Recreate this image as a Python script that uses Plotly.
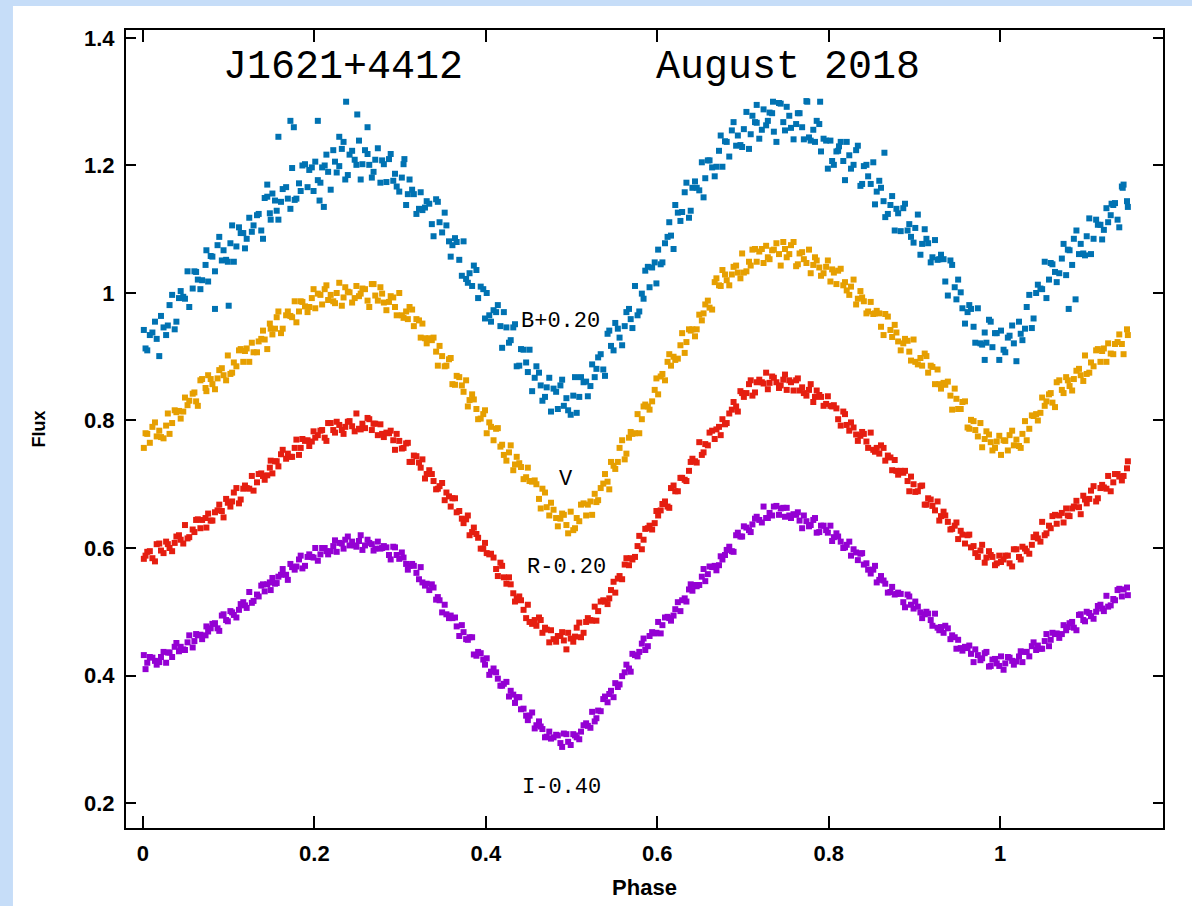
import plotly.graph_objects as go

# Orbital phase of each observation, first night (shared by all four bands)
phase_1 = [
    0.001, 0.005, 0.011, 0.016, 0.021, 0.027, 0.031, 0.037, 0.042, 0.047,
    0.052, 0.058, 0.062, 0.067, 0.073, 0.076, 0.081, 0.087, 0.092, 0.097,
    0.102, 0.106, 0.112, 0.117, 0.121, 0.127, 0.133, 0.138, 0.142, 0.148,
    0.151, 0.156, 0.161, 0.167, 0.172, 0.177, 0.182, 0.186, 0.192, 0.197,
    0.201, 0.207, 0.212, 0.216, 0.222, 0.226, 0.232, 0.236, 0.241, 0.247,
    0.252, 0.256, 0.262, 0.267, 0.271, 0.277, 0.281, 0.287, 0.292, 0.296,
    0.302, 0.307, 0.311, 0.316, 0.322, 0.326, 0.331, 0.337, 0.342, 0.346,
    0.352, 0.357, 0.361, 0.366, 0.372, 0.377, 0.381, 0.386, 0.391, 0.397,
    0.401, 0.406, 0.412, 0.417, 0.421, 0.427, 0.432, 0.436, 0.441, 0.447,
    0.451, 0.457, 0.462, 0.466, 0.471, 0.476, 0.482, 0.487, 0.491, 0.496,
    0.502, 0.506, 0.511, 0.517, 0.522, 0.527, 0.531, 0.537, 0.542, 0.546,
    0.551, 0.556, 0.562, 0.567, 0.571, 0.577, 0.582, 0.586, 0.591, 0.597,
    0.601, 0.606, 0.612, 0.616, 0.621, 0.627, 0.632, 0.637, 0.641, 0.646,
    0.652, 0.656, 0.661, 0.667, 0.672, 0.676, 0.681, 0.687, 0.692, 0.697,
    0.701, 0.707, 0.711, 0.716, 0.722, 0.727, 0.731, 0.736, 0.742, 0.747,
    0.751, 0.756, 0.762, 0.766, 0.771, 0.777, 0.782, 0.786, 0.791, 0.797,
    0.802, 0.806, 0.811, 0.817, 0.821, 0.826, 0.832, 0.837, 0.841, 0.846,
    0.852, 0.856, 0.861, 0.866, 0.872, 0.877, 0.881, 0.887, 0.892, 0.896,
    0.901, 0.907, 0.912, 0.916, 0.921, 0.927, 0.931, 0.936, 0.942, 0.947,
    0.951, 0.956, 0.962, 0.966, 0.971, 0.977, 0.982, 0.987, 0.991, 0.996,
    1.001, 1.006, 1.011, 1.016, 1.022, 1.026, 1.031, 1.037, 1.042, 1.047,
    1.052, 1.057, 1.061, 1.066, 1.072, 1.077, 1.081, 1.086, 1.092, 1.097,
    1.101, 1.106, 1.112, 1.117, 1.121, 1.126, 1.132, 1.137, 1.142, 1.148,
]

# Orbital phase of each observation, second night
phase_2 = [
    0.003, 0.008, 0.014, 0.019, 0.024, 0.029, 0.034, 0.039, 0.044, 0.049,
    0.054, 0.060, 0.064, 0.069, 0.074, 0.079, 0.084, 0.089, 0.094, 0.099,
    0.104, 0.109, 0.114, 0.119, 0.124, 0.129, 0.135, 0.140, 0.145, 0.149,
    0.154, 0.158, 0.163, 0.169, 0.174, 0.179, 0.184, 0.189, 0.194, 0.199,
    0.204, 0.209, 0.214, 0.219, 0.224, 0.229, 0.234, 0.239, 0.244, 0.249,
    0.254, 0.259, 0.264, 0.269, 0.274, 0.279, 0.284, 0.289, 0.294, 0.299,
    0.304, 0.309, 0.314, 0.319, 0.324, 0.329, 0.334, 0.339, 0.344, 0.349,
    0.354, 0.359, 0.364, 0.369, 0.374, 0.379, 0.384, 0.389, 0.394, 0.399,
    0.404, 0.409, 0.414, 0.419, 0.424, 0.429, 0.434, 0.439, 0.444, 0.449,
    0.454, 0.459, 0.464, 0.469, 0.474, 0.479, 0.484, 0.489, 0.494, 0.499,
    0.504, 0.509, 0.514, 0.519, 0.524, 0.529, 0.534, 0.539, 0.544, 0.549,
    0.554, 0.559, 0.564, 0.569, 0.574, 0.579, 0.584, 0.589, 0.594, 0.599,
    0.604, 0.609, 0.614, 0.619, 0.624, 0.629, 0.634, 0.639, 0.644, 0.649,
    0.654, 0.659, 0.664, 0.669, 0.674, 0.679, 0.684, 0.689, 0.694, 0.699,
    0.704, 0.709, 0.714, 0.719, 0.724, 0.729, 0.734, 0.739, 0.744, 0.749,
    0.754, 0.759, 0.764, 0.769, 0.774, 0.779, 0.784, 0.789, 0.794, 0.799,
    0.804, 0.809, 0.814, 0.819, 0.824, 0.829, 0.834, 0.839, 0.844, 0.849,
    0.854, 0.859, 0.864, 0.869, 0.874, 0.879, 0.884, 0.889, 0.894, 0.899,
    0.904, 0.909, 0.914, 0.919, 0.924, 0.929, 0.934, 0.939, 0.944, 0.949,
    0.954, 0.959, 0.964, 0.969, 0.974, 0.979, 0.984, 0.989, 0.994, 0.999,
    1.004, 1.009, 1.014, 1.019, 1.024, 1.029, 1.034, 1.039, 1.044, 1.049,
    1.054, 1.059, 1.064, 1.069, 1.074, 1.079, 1.084, 1.089, 1.094, 1.099,
    1.104, 1.109, 1.114, 1.119, 1.124, 1.129, 1.134, 1.139, 1.144, 1.149,
]

# B band flux (offset +0.20), night 1 and night 2
flux_b_1 = [
    0.942, 0.910, 0.938, 0.928, 0.964, 0.934, 0.981, 0.943, 0.992, 0.994,
    1.034, 1.007, 1.033, 1.006, 1.044, 1.018, 1.057, 1.075, 1.051, 1.052,
    1.078, 1.049, 1.103, 1.094, 1.085, 1.096, 1.122, 1.098, 1.149, 1.125,
    1.156, 1.129, 1.143, 1.166, 1.132, 1.146, 1.172, 1.200, 1.166, 1.197,
    1.206, 1.173, 1.200, 1.190, 1.224, 1.189, 1.226, 1.178, 1.217, 1.209,
    1.239, 1.202, 1.218, 1.181, 1.209, 1.173, 1.202, 1.210, 1.176, 1.167,
    1.181, 1.138, 1.178, 1.155, 1.132, 1.130, 1.144, 1.108, 1.147, 1.111,
    1.126, 1.081, 1.075, 1.080, 1.027, 1.022, 1.031, 1.043, 0.992, 1.006,
    1.000, 0.955, 0.970, 0.948, 0.970, 0.922, 0.946, 0.885, 0.912, 0.891,
    0.911, 0.867, 0.875, 0.831, 0.852, 0.814, 0.845, 0.855, 0.823, 0.816,
    0.839, 0.812, 0.868, 0.861, 0.854, 0.868, 0.899, 0.880, 0.936, 0.917,
    0.953, 0.930, 0.948, 0.975, 0.945, 0.965, 0.999, 1.035, 1.009, 1.048,
    1.068, 1.048, 1.088, 1.090, 1.138, 1.113, 1.158, 1.118, 1.165, 1.165,
    1.205, 1.180, 1.208, 1.183, 1.223, 1.198, 1.237, 1.255, 1.231, 1.232,
    1.257, 1.226, 1.278, 1.267, 1.256, 1.263, 1.283, 1.253, 1.298, 1.268,
    1.292, 1.259, 1.265, 1.282, 1.241, 1.244, 1.256, 1.270, 1.222, 1.239,
    1.239, 1.201, 1.223, 1.207, 1.237, 1.195, 1.224, 1.168, 1.199, 1.183,
    1.205, 1.159, 1.165, 1.119, 1.138, 1.098, 1.125, 1.133, 1.098, 1.088,
    1.102, 1.060, 1.100, 1.078, 1.056, 1.052, 1.060, 1.018, 1.051, 1.009,
    1.021, 0.976, 0.970, 0.975, 0.922, 0.921, 0.938, 0.958, 0.915, 0.937,
    0.941, 0.907, 0.933, 0.921, 0.955, 0.926, 0.978, 0.945, 1.000, 1.007,
    1.049, 1.021, 1.045, 1.017, 1.054, 1.028, 1.067, 1.085, 1.061, 1.062,
    1.089, 1.061, 1.115, 1.107, 1.099, 1.111, 1.138, 1.115, 1.167, 1.144,
]
flux_b_2 = [
    0.913, 0.934, 0.955, 0.901, 0.946, 0.949, 0.997, 0.955, 1.003, 0.991,
    0.978, 1.034, 1.021, 1.020, 1.067, 1.058, 1.034, 1.088, 1.067, 1.049,
    1.106, 1.073, 1.094, 1.070, 1.118, 1.106, 1.124, 1.085, 1.151, 1.115,
    1.145, 1.115, 1.163, 1.148, 1.196, 1.148, 1.160, 1.202, 1.193, 1.160,
    1.177, 1.197, 1.217, 1.162, 1.206, 1.199, 1.237, 1.185, 1.223, 1.201,
    1.178, 1.224, 1.201, 1.190, 1.227, 1.208, 1.174, 1.218, 1.187, 1.159,
    1.202, 1.155, 1.162, 1.124, 1.158, 1.134, 1.140, 1.089, 1.143, 1.095,
    1.106, 1.057, 1.086, 1.052, 1.081, 1.016, 1.011, 1.036, 1.010, 0.960,
    0.965, 0.973, 0.981, 0.914, 0.946, 0.926, 0.951, 0.886, 0.911, 0.876,
    0.846, 0.885, 0.855, 0.837, 0.867, 0.850, 0.818, 0.864, 0.835, 0.809,
    0.868, 0.837, 0.860, 0.838, 0.888, 0.881, 0.904, 0.870, 0.941, 0.910,
    0.944, 0.918, 0.970, 0.959, 1.011, 0.971, 0.991, 1.041, 1.040, 1.015,
    1.045, 1.078, 1.111, 1.069, 1.126, 1.127, 1.173, 1.129, 1.175, 1.161,
    1.150, 1.208, 1.197, 1.198, 1.247, 1.238, 1.214, 1.268, 1.247, 1.229,
    1.284, 1.249, 1.268, 1.242, 1.288, 1.270, 1.282, 1.237, 1.297, 1.255,
    1.278, 1.241, 1.282, 1.260, 1.301, 1.239, 1.237, 1.265, 1.242, 1.195,
    1.207, 1.222, 1.237, 1.177, 1.216, 1.201, 1.231, 1.171, 1.201, 1.171,
    1.139, 1.176, 1.144, 1.124, 1.152, 1.132, 1.097, 1.140, 1.108, 1.079,
    1.123, 1.077, 1.085, 1.048, 1.083, 1.053, 1.053, 0.996, 1.044, 0.990,
    1.001, 0.952, 0.981, 0.947, 0.976, 0.919, 0.922, 0.955, 0.937, 0.895,
    0.911, 0.930, 0.949, 0.893, 0.936, 0.944, 0.997, 0.960, 1.013, 1.006,
    0.992, 1.047, 1.033, 1.031, 1.077, 1.068, 1.044, 1.098, 1.077, 1.059,
    1.117, 1.085, 1.107, 1.084, 1.133, 1.122, 1.141, 1.103, 1.170, 1.135,
]

# Scattered B band points lying away from the main band
b_stray_phase = [0.158, 0.172, 0.176, 0.204, 0.229, 0.237, 0.250, 0.262,
                 0.211, 0.206, 0.084, 0.100, 0.145, 0.305, 0.716, 0.735,
                 0.775, 0.790, 0.812, 0.865, 1.088, 1.080, 0.982, 1.143,
                 1.130]
b_stray_flux = [1.245, 1.270, 1.260, 1.270, 1.245, 1.300, 1.280, 1.260,
                1.135, 1.145, 0.975, 0.980, 1.170, 1.210, 1.295, 1.300,
                1.300, 1.300, 1.230, 1.220, 0.990, 0.975, 0.895, 1.165,
                1.140]

# V band flux, night 1 and night 2
flux_v_1 = [
    0.757, 0.779, 0.790, 0.775, 0.774, 0.792, 0.779, 0.816, 0.815, 0.814,
    0.824, 0.842, 0.830, 0.863, 0.851, 0.871, 0.857, 0.866, 0.882, 0.863,
    0.873, 0.891, 0.910, 0.892, 0.913, 0.922, 0.907, 0.928, 0.927, 0.952,
    0.935, 0.962, 0.937, 0.965, 0.964, 0.987, 0.971, 0.986, 0.970, 0.992,
    0.976, 0.997, 1.006, 0.989, 0.987, 1.000, 0.980, 1.009, 1.001, 0.992,
    0.995, 1.007, 0.988, 1.014, 0.996, 1.009, 0.985, 0.986, 0.993, 0.965,
    0.965, 0.971, 0.978, 0.948, 0.957, 0.952, 0.921, 0.926, 0.908, 0.917,
    0.885, 0.896, 0.857, 0.870, 0.855, 0.863, 0.832, 0.833, 0.802, 0.810,
    0.780, 0.790, 0.787, 0.759, 0.746, 0.750, 0.722, 0.743, 0.727, 0.711,
    0.705, 0.706, 0.677, 0.693, 0.664, 0.671, 0.647, 0.646, 0.652, 0.623,
    0.628, 0.647, 0.668, 0.651, 0.673, 0.685, 0.675, 0.701, 0.704, 0.735,
    0.724, 0.757, 0.739, 0.773, 0.779, 0.810, 0.802, 0.825, 0.817, 0.848,
    0.841, 0.873, 0.892, 0.886, 0.895, 0.918, 0.906, 0.943, 0.943, 0.943,
    0.957, 0.982, 0.977, 1.017, 1.012, 1.036, 1.020, 1.029, 1.043, 1.023,
    1.032, 1.049, 1.068, 1.049, 1.069, 1.074, 1.053, 1.068, 1.061, 1.080,
    1.056, 1.075, 1.042, 1.062, 1.053, 1.068, 1.044, 1.051, 1.027, 1.041,
    1.018, 1.032, 1.035, 1.012, 1.004, 1.010, 0.982, 1.003, 0.987, 0.971,
    0.967, 0.972, 0.947, 0.967, 0.942, 0.950, 0.924, 0.921, 0.925, 0.894,
    0.892, 0.898, 0.905, 0.875, 0.884, 0.880, 0.850, 0.856, 0.839, 0.850,
    0.818, 0.829, 0.789, 0.801, 0.785, 0.796, 0.771, 0.778, 0.753, 0.767,
    0.746, 0.768, 0.777, 0.761, 0.760, 0.779, 0.769, 0.808, 0.810, 0.812,
    0.823, 0.841, 0.828, 0.860, 0.848, 0.868, 0.854, 0.865, 0.881, 0.862,
    0.873, 0.891, 0.910, 0.892, 0.913, 0.921, 0.904, 0.923, 0.920, 0.943,
]
flux_v_2 = [
    0.780, 0.765, 0.797, 0.784, 0.772, 0.811, 0.796, 0.813, 0.803, 0.836,
    0.831, 0.844, 0.823, 0.865, 0.846, 0.865, 0.849, 0.879, 0.871, 0.902,
    0.875, 0.885, 0.912, 0.909, 0.892, 0.907, 0.924, 0.941, 0.912, 0.944,
    0.944, 0.971, 0.944, 0.971, 0.962, 0.954, 0.987, 0.979, 0.978, 1.006,
    0.999, 0.982, 1.012, 0.997, 0.984, 1.016, 0.993, 1.002, 0.985, 1.011,
    0.999, 1.006, 0.978, 1.014, 0.988, 0.999, 0.973, 0.995, 0.978, 1.000,
    0.961, 0.959, 0.974, 0.959, 0.930, 0.929, 0.929, 0.930, 0.886, 0.901,
    0.886, 0.898, 0.856, 0.868, 0.845, 0.822, 0.841, 0.818, 0.803, 0.816,
    0.797, 0.769, 0.788, 0.762, 0.737, 0.761, 0.731, 0.733, 0.708, 0.726,
    0.704, 0.700, 0.662, 0.687, 0.651, 0.660, 0.634, 0.654, 0.636, 0.657,
    0.631, 0.642, 0.670, 0.668, 0.652, 0.672, 0.694, 0.716, 0.692, 0.729,
    0.735, 0.769, 0.748, 0.782, 0.780, 0.780, 0.822, 0.822, 0.830, 0.866,
    0.869, 0.863, 0.904, 0.900, 0.897, 0.937, 0.923, 0.941, 0.932, 0.966,
    0.968, 0.988, 0.974, 1.023, 1.011, 1.029, 1.012, 1.041, 1.032, 1.062,
    1.034, 1.043, 1.069, 1.065, 1.047, 1.056, 1.067, 1.078, 1.043, 1.069,
    1.061, 1.080, 1.045, 1.064, 1.047, 1.031, 1.056, 1.040, 1.031, 1.051,
    1.037, 1.014, 1.038, 1.017, 0.997, 1.021, 0.991, 0.993, 0.968, 0.986,
    0.968, 0.968, 0.934, 0.963, 0.931, 0.938, 0.910, 0.928, 0.908, 0.927,
    0.888, 0.886, 0.901, 0.886, 0.857, 0.857, 0.859, 0.861, 0.817, 0.834,
    0.818, 0.830, 0.787, 0.799, 0.775, 0.758, 0.783, 0.766, 0.757, 0.776,
    0.769, 0.753, 0.784, 0.770, 0.757, 0.799, 0.787, 0.807, 0.800, 0.836,
    0.830, 0.843, 0.821, 0.863, 0.843, 0.863, 0.847, 0.878, 0.871, 0.902,
    0.875, 0.885, 0.912, 0.909, 0.892, 0.905, 0.920, 0.935, 0.904, 0.934,
]

# R band flux (offset -0.20), night 1 and night 2
flux_r_1 = [
    0.583, 0.594, 0.584, 0.606, 0.596, 0.610, 0.600, 0.608, 0.620, 0.607,
    0.615, 0.629, 0.644, 0.631, 0.647, 0.654, 0.643, 0.659, 0.658, 0.677,
    0.665, 0.687, 0.670, 0.693, 0.694, 0.713, 0.703, 0.717, 0.707, 0.726,
    0.717, 0.736, 0.747, 0.740, 0.743, 0.757, 0.746, 0.771, 0.769, 0.767,
    0.773, 0.784, 0.773, 0.796, 0.785, 0.798, 0.785, 0.790, 0.799, 0.783,
    0.787, 0.795, 0.804, 0.785, 0.795, 0.794, 0.774, 0.780, 0.769, 0.779,
    0.756, 0.764, 0.735, 0.745, 0.734, 0.739, 0.716, 0.716, 0.692, 0.697,
    0.675, 0.681, 0.678, 0.656, 0.646, 0.645, 0.620, 0.632, 0.616, 0.599,
    0.592, 0.591, 0.567, 0.577, 0.554, 0.554, 0.529, 0.521, 0.518, 0.490,
    0.484, 0.487, 0.491, 0.467, 0.472, 0.471, 0.453, 0.462, 0.455, 0.467,
    0.453, 0.475, 0.460, 0.484, 0.487, 0.508, 0.501, 0.518, 0.512, 0.534,
    0.530, 0.556, 0.574, 0.573, 0.582, 0.603, 0.598, 0.630, 0.635, 0.639,
    0.651, 0.669, 0.665, 0.694, 0.689, 0.710, 0.707, 0.721, 0.740, 0.734,
    0.746, 0.763, 0.781, 0.771, 0.790, 0.802, 0.796, 0.817, 0.822, 0.846,
    0.837, 0.857, 0.839, 0.860, 0.860, 0.875, 0.859, 0.867, 0.851, 0.864,
    0.848, 0.860, 0.863, 0.847, 0.843, 0.848, 0.829, 0.847, 0.837, 0.826,
    0.823, 0.824, 0.802, 0.814, 0.793, 0.797, 0.778, 0.776, 0.779, 0.757,
    0.754, 0.757, 0.761, 0.737, 0.742, 0.738, 0.715, 0.718, 0.705, 0.712,
    0.688, 0.697, 0.668, 0.678, 0.666, 0.673, 0.650, 0.651, 0.629, 0.635,
    0.614, 0.621, 0.620, 0.601, 0.592, 0.596, 0.577, 0.595, 0.586, 0.576,
    0.578, 0.588, 0.576, 0.598, 0.586, 0.602, 0.595, 0.605, 0.621, 0.610,
    0.620, 0.635, 0.650, 0.638, 0.655, 0.662, 0.650, 0.665, 0.664, 0.682,
    0.670, 0.690, 0.673, 0.694, 0.695, 0.713, 0.703, 0.716, 0.706, 0.725,
]
flux_r_2 = [
    0.588, 0.595, 0.579, 0.607, 0.592, 0.606, 0.595, 0.618, 0.613, 0.636,
    0.617, 0.625, 0.645, 0.644, 0.632, 0.643, 0.656, 0.668, 0.648, 0.671,
    0.673, 0.694, 0.676, 0.698, 0.693, 0.690, 0.716, 0.713, 0.714, 0.737,
    0.736, 0.728, 0.754, 0.748, 0.743, 0.770, 0.757, 0.768, 0.760, 0.783,
    0.777, 0.785, 0.768, 0.796, 0.781, 0.793, 0.779, 0.798, 0.791, 0.811,
    0.786, 0.788, 0.802, 0.795, 0.777, 0.779, 0.781, 0.784, 0.754, 0.768,
    0.757, 0.765, 0.735, 0.744, 0.726, 0.709, 0.722, 0.705, 0.693, 0.702,
    0.687, 0.665, 0.678, 0.658, 0.639, 0.651, 0.625, 0.622, 0.599, 0.608,
    0.590, 0.585, 0.556, 0.572, 0.544, 0.543, 0.516, 0.524, 0.503, 0.511,
    0.481, 0.478, 0.487, 0.475, 0.452, 0.457, 0.462, 0.468, 0.441, 0.458,
    0.461, 0.483, 0.467, 0.490, 0.486, 0.486, 0.516, 0.516, 0.521, 0.547,
    0.552, 0.551, 0.584, 0.584, 0.586, 0.619, 0.613, 0.631, 0.629, 0.658,
    0.659, 0.673, 0.663, 0.698, 0.689, 0.710, 0.705, 0.735, 0.736, 0.766,
    0.750, 0.761, 0.784, 0.786, 0.777, 0.794, 0.811, 0.829, 0.814, 0.843,
    0.843, 0.863, 0.844, 0.864, 0.858, 0.849, 0.869, 0.860, 0.855, 0.872,
    0.863, 0.847, 0.866, 0.852, 0.839, 0.857, 0.837, 0.840, 0.823, 0.838,
    0.822, 0.819, 0.792, 0.810, 0.784, 0.789, 0.768, 0.782, 0.767, 0.781,
    0.751, 0.748, 0.757, 0.745, 0.722, 0.721, 0.721, 0.721, 0.689, 0.700,
    0.689, 0.698, 0.668, 0.676, 0.659, 0.643, 0.657, 0.641, 0.630, 0.640,
    0.627, 0.607, 0.621, 0.603, 0.586, 0.605, 0.585, 0.589, 0.573, 0.588,
    0.582, 0.588, 0.571, 0.598, 0.582, 0.599, 0.591, 0.617, 0.615, 0.641,
    0.623, 0.631, 0.652, 0.651, 0.640, 0.651, 0.662, 0.674, 0.653, 0.676,
    0.677, 0.697, 0.678, 0.699, 0.693, 0.689, 0.716, 0.712, 0.713, 0.736,
]

# I band flux (offset -0.40), night 1 and night 2
flux_i_1 = [
    0.432, 0.420, 0.428, 0.417, 0.429, 0.420, 0.436, 0.445, 0.438, 0.441,
    0.452, 0.444, 0.465, 0.464, 0.463, 0.469, 0.481, 0.474, 0.494, 0.487,
    0.501, 0.495, 0.503, 0.515, 0.506, 0.514, 0.527, 0.541, 0.532, 0.546,
    0.553, 0.545, 0.558, 0.558, 0.575, 0.566, 0.582, 0.568, 0.586, 0.586,
    0.600, 0.590, 0.600, 0.590, 0.603, 0.594, 0.607, 0.613, 0.604, 0.604,
    0.611, 0.597, 0.613, 0.606, 0.599, 0.599, 0.603, 0.589, 0.602, 0.589,
    0.593, 0.575, 0.572, 0.572, 0.551, 0.546, 0.544, 0.543, 0.519, 0.518,
    0.511, 0.490, 0.490, 0.477, 0.479, 0.457, 0.460, 0.433, 0.437, 0.425,
    0.427, 0.406, 0.405, 0.384, 0.387, 0.367, 0.370, 0.366, 0.347, 0.337,
    0.337, 0.317, 0.328, 0.316, 0.304, 0.301, 0.307, 0.294, 0.309, 0.296,
    0.308, 0.303, 0.312, 0.325, 0.318, 0.328, 0.345, 0.363, 0.358, 0.376,
    0.388, 0.386, 0.405, 0.411, 0.434, 0.430, 0.450, 0.440, 0.462, 0.466,
    0.484, 0.479, 0.492, 0.486, 0.504, 0.501, 0.521, 0.535, 0.533, 0.540,
    0.555, 0.548, 0.571, 0.572, 0.573, 0.582, 0.597, 0.595, 0.620, 0.618,
    0.634, 0.628, 0.637, 0.649, 0.640, 0.647, 0.655, 0.665, 0.652, 0.663,
    0.663, 0.647, 0.652, 0.643, 0.651, 0.634, 0.644, 0.624, 0.635, 0.628,
    0.635, 0.617, 0.618, 0.600, 0.605, 0.588, 0.593, 0.591, 0.574, 0.566,
    0.566, 0.546, 0.556, 0.544, 0.531, 0.527, 0.530, 0.515, 0.527, 0.511,
    0.516, 0.499, 0.496, 0.497, 0.478, 0.475, 0.476, 0.478, 0.457, 0.460,
    0.456, 0.439, 0.443, 0.434, 0.441, 0.424, 0.435, 0.414, 0.425, 0.419,
    0.430, 0.419, 0.428, 0.417, 0.430, 0.421, 0.437, 0.446, 0.440, 0.442,
    0.454, 0.446, 0.467, 0.466, 0.465, 0.471, 0.482, 0.475, 0.495, 0.487,
    0.500, 0.493, 0.500, 0.511, 0.501, 0.508, 0.520, 0.534, 0.524, 0.538,
]
flux_i_2 = [
    0.410, 0.429, 0.423, 0.421, 0.437, 0.436, 0.429, 0.451, 0.445, 0.440,
    0.463, 0.454, 0.463, 0.457, 0.477, 0.474, 0.482, 0.470, 0.496, 0.485,
    0.499, 0.491, 0.512, 0.510, 0.531, 0.517, 0.524, 0.543, 0.543, 0.534,
    0.544, 0.555, 0.567, 0.550, 0.570, 0.571, 0.588, 0.572, 0.590, 0.585,
    0.580, 0.600, 0.595, 0.595, 0.612, 0.608, 0.599, 0.618, 0.610, 0.602,
    0.620, 0.604, 0.608, 0.596, 0.610, 0.600, 0.601, 0.582, 0.601, 0.583,
    0.585, 0.566, 0.575, 0.561, 0.570, 0.541, 0.534, 0.538, 0.523, 0.499,
    0.496, 0.494, 0.491, 0.462, 0.468, 0.456, 0.460, 0.431, 0.435, 0.417,
    0.401, 0.411, 0.395, 0.384, 0.390, 0.376, 0.357, 0.366, 0.348, 0.330,
    0.342, 0.322, 0.320, 0.303, 0.312, 0.303, 0.306, 0.288, 0.308, 0.291,
    0.306, 0.300, 0.322, 0.321, 0.343, 0.333, 0.344, 0.367, 0.371, 0.366,
    0.382, 0.399, 0.417, 0.406, 0.432, 0.437, 0.458, 0.446, 0.468, 0.467,
    0.466, 0.491, 0.490, 0.494, 0.515, 0.518, 0.516, 0.543, 0.542, 0.542,
    0.567, 0.559, 0.570, 0.565, 0.587, 0.589, 0.602, 0.594, 0.624, 0.618,
    0.632, 0.625, 0.646, 0.644, 0.665, 0.647, 0.651, 0.666, 0.662, 0.649,
    0.651, 0.653, 0.656, 0.631, 0.642, 0.636, 0.647, 0.625, 0.635, 0.624,
    0.611, 0.623, 0.610, 0.601, 0.610, 0.598, 0.581, 0.592, 0.576, 0.560,
    0.572, 0.550, 0.549, 0.530, 0.539, 0.528, 0.528, 0.507, 0.524, 0.505,
    0.508, 0.490, 0.500, 0.487, 0.497, 0.471, 0.467, 0.474, 0.463, 0.442,
    0.443, 0.445, 0.447, 0.421, 0.432, 0.427, 0.437, 0.415, 0.426, 0.415,
    0.409, 0.429, 0.423, 0.422, 0.438, 0.437, 0.430, 0.452, 0.447, 0.442,
    0.465, 0.456, 0.465, 0.459, 0.479, 0.476, 0.484, 0.471, 0.496, 0.485,
    0.498, 0.489, 0.509, 0.505, 0.525, 0.510, 0.518, 0.536, 0.535, 0.526,
]

band_labels = ["B+0.20", "V", "R-0.20", "I-0.40"]
band_colors = ["#0072B2", "#E69F00", "#E51E10", "#9400D3"]
# label anchor points in data units (phase, flux)
label_x = [0.487, 0.494, 0.494, 0.488]
label_y = [0.955, 0.708, 0.570, 0.224]

object_name = "J1621+4412"
epoch = "August 2018"
x_ticks = [0, 0.2, 0.4, 0.6, 0.8, 1]
y_ticks = [0.2, 0.4, 0.6, 0.8, 1, 1.2, 1.4]

series = [
    (phase_1 + phase_2 + b_stray_phase, flux_b_1 + flux_b_2 + b_stray_flux),
    (phase_1 + phase_2, flux_v_1 + flux_v_2),
    (phase_1 + phase_2, flux_r_1 + flux_r_2),
    (phase_1 + phase_2, flux_i_1 + flux_i_2),
]

fig = go.Figure()
for (xs, ys), name, color in zip(series, band_labels, band_colors):
    fig.add_trace(go.Scatter(
        x=xs, y=ys, mode="markers", name=name,
        marker=dict(symbol="square", size=6, color=color, line=dict(width=0)),
    ))

mono = "Liberation Mono, Courier New, monospace"
for text, x, y in zip(band_labels, label_x, label_y):
    fig.add_annotation(x=x, y=y, text=text, showarrow=False,
                       font=dict(family=mono, size=22, color="black"))

fig.add_annotation(x=0.2334, y=1.353, text=object_name, showarrow=False,
                   font=dict(family=mono, size=40, color="black"))
fig.add_annotation(x=0.7526, y=1.353, text=epoch, showarrow=False,
                   font=dict(family=mono, size=40, color="black"))

# white card sitting on the light blue page
fig.add_shape(type="rect", xref="paper", yref="paper",
              x0=-0.109, x1=1.05, y0=-0.12, y1=1.030,
              fillcolor="white", line=dict(width=0), layer="below")

sans = "Liberation Sans, Arial, sans-serif"
tick_font = dict(family=sans, size=22, color="black", weight="bold")

fig.update_xaxes(
    range=[-0.0198, 1.190], tickvals=x_ticks,
    showline=True, linecolor="black", linewidth=2, mirror="allticks",
    ticks="inside", ticklen=12, tickwidth=2, tickcolor="black",
    showgrid=False, zeroline=False, tickfont=tick_font,
    ticklabelstandoff=5,
    title=dict(text="Phase", standoff=14,
               font=dict(family=sans, size=22, color="black", weight="bold")),
)
fig.update_yaxes(
    range=[0.1608, 1.4125], tickvals=y_ticks,
    showline=True, linecolor="black", linewidth=2, mirror="allticks",
    ticks="inside", ticklen=10, tickwidth=2, tickcolor="black",
    showgrid=False, zeroline=False, tickfont=tick_font,
    ticklabelstandoff=5,
    title=dict(text="Flux", standoff=34,
               font=dict(family=sans, size=18, color="black", weight="bold")),
)

fig.update_layout(
    width=1192, height=906,
    margin=dict(l=126, r=29, t=30, b=78, autoexpand=False),
    paper_bgcolor="#c6ddf8", plot_bgcolor="white",
    showlegend=False,
)

fig.write_html("out.html")
